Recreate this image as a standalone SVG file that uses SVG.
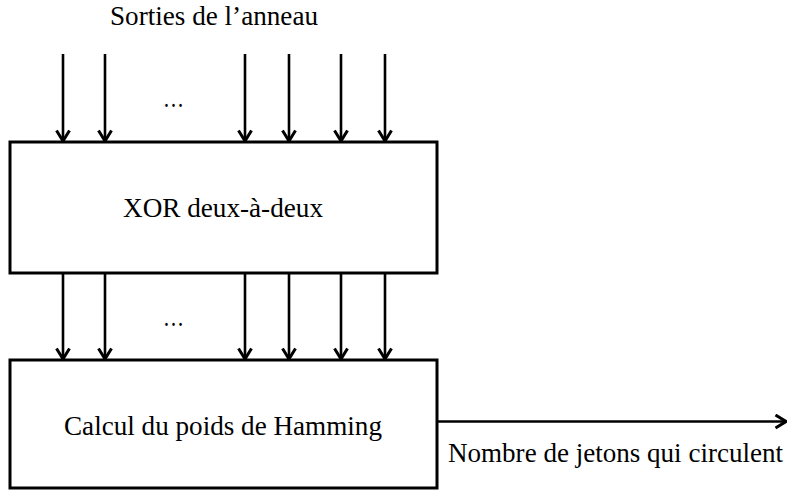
<svg xmlns="http://www.w3.org/2000/svg" width="787" height="490" viewBox="0 0 787 490">
<defs>
<marker id="ah" markerUnits="userSpaceOnUse" markerWidth="16" markerHeight="16" refX="14" refY="8" orient="auto" viewBox="0 0 16 16">
<path d="M3.5,1.5 L14,8 L3.5,14.5" fill="none" stroke="#000" stroke-width="3"/>
</marker>
</defs>
<style>
.box{fill:#fff;stroke:#000;stroke-width:3}
.ln{stroke:#000;stroke-width:2.6;fill:none;marker-end:url(#ah)}
.t{font-family:'Liberation Serif', 'Times New Roman', 'DejaVu Serif', serif;font-size:27px;fill:#000}
</style>
<g font-family="Liberation Serif" font-size="27">
<text class="t" x="110" y="25" textLength="208" lengthAdjust="spacingAndGlyphs">Sorties de l’anneau</text>
<g id="xor">
<rect class="box" x="10" y="142" width="427" height="131"/>
<text class="t" x="123" y="217" textLength="200" lengthAdjust="spacingAndGlyphs">XOR deux-à-deux</text>
</g>
<g id="hamming">
<rect class="box" x="10" y="360" width="427" height="128"/>
<text class="t" x="64" y="435" textLength="318" lengthAdjust="spacingAndGlyphs">Calcul du poids de Hamming</text>
</g>
<g id="connectors">
<line class="ln" x1="63" y1="54" x2="63" y2="141"/>
<line class="ln" x1="105" y1="54" x2="105" y2="141"/>
<line class="ln" x1="245" y1="54" x2="245" y2="141"/>
<line class="ln" x1="289" y1="54" x2="289" y2="141"/>
<line class="ln" x1="341" y1="54" x2="341" y2="141"/>
<line class="ln" x1="385" y1="54" x2="385" y2="141"/>
<line class="ln" x1="63" y1="273" x2="63" y2="359"/>
<line class="ln" x1="105" y1="273" x2="105" y2="359"/>
<line class="ln" x1="245" y1="273" x2="245" y2="359"/>
<line class="ln" x1="289" y1="273" x2="289" y2="359"/>
<line class="ln" x1="341" y1="273" x2="341" y2="359"/>
<line class="ln" x1="385" y1="273" x2="385" y2="359"/>
<line class="ln" x1="437" y1="421.5" x2="786" y2="421.5"/>
</g>
<text class="t" x="163" y="107" textLength="21" lengthAdjust="spacingAndGlyphs">…</text>
<text class="t" x="163" y="326" textLength="21" lengthAdjust="spacingAndGlyphs">…</text>
<text class="t" x="448" y="462" textLength="335" lengthAdjust="spacingAndGlyphs">Nombre de jetons qui circulent</text>
</g>
</svg>
